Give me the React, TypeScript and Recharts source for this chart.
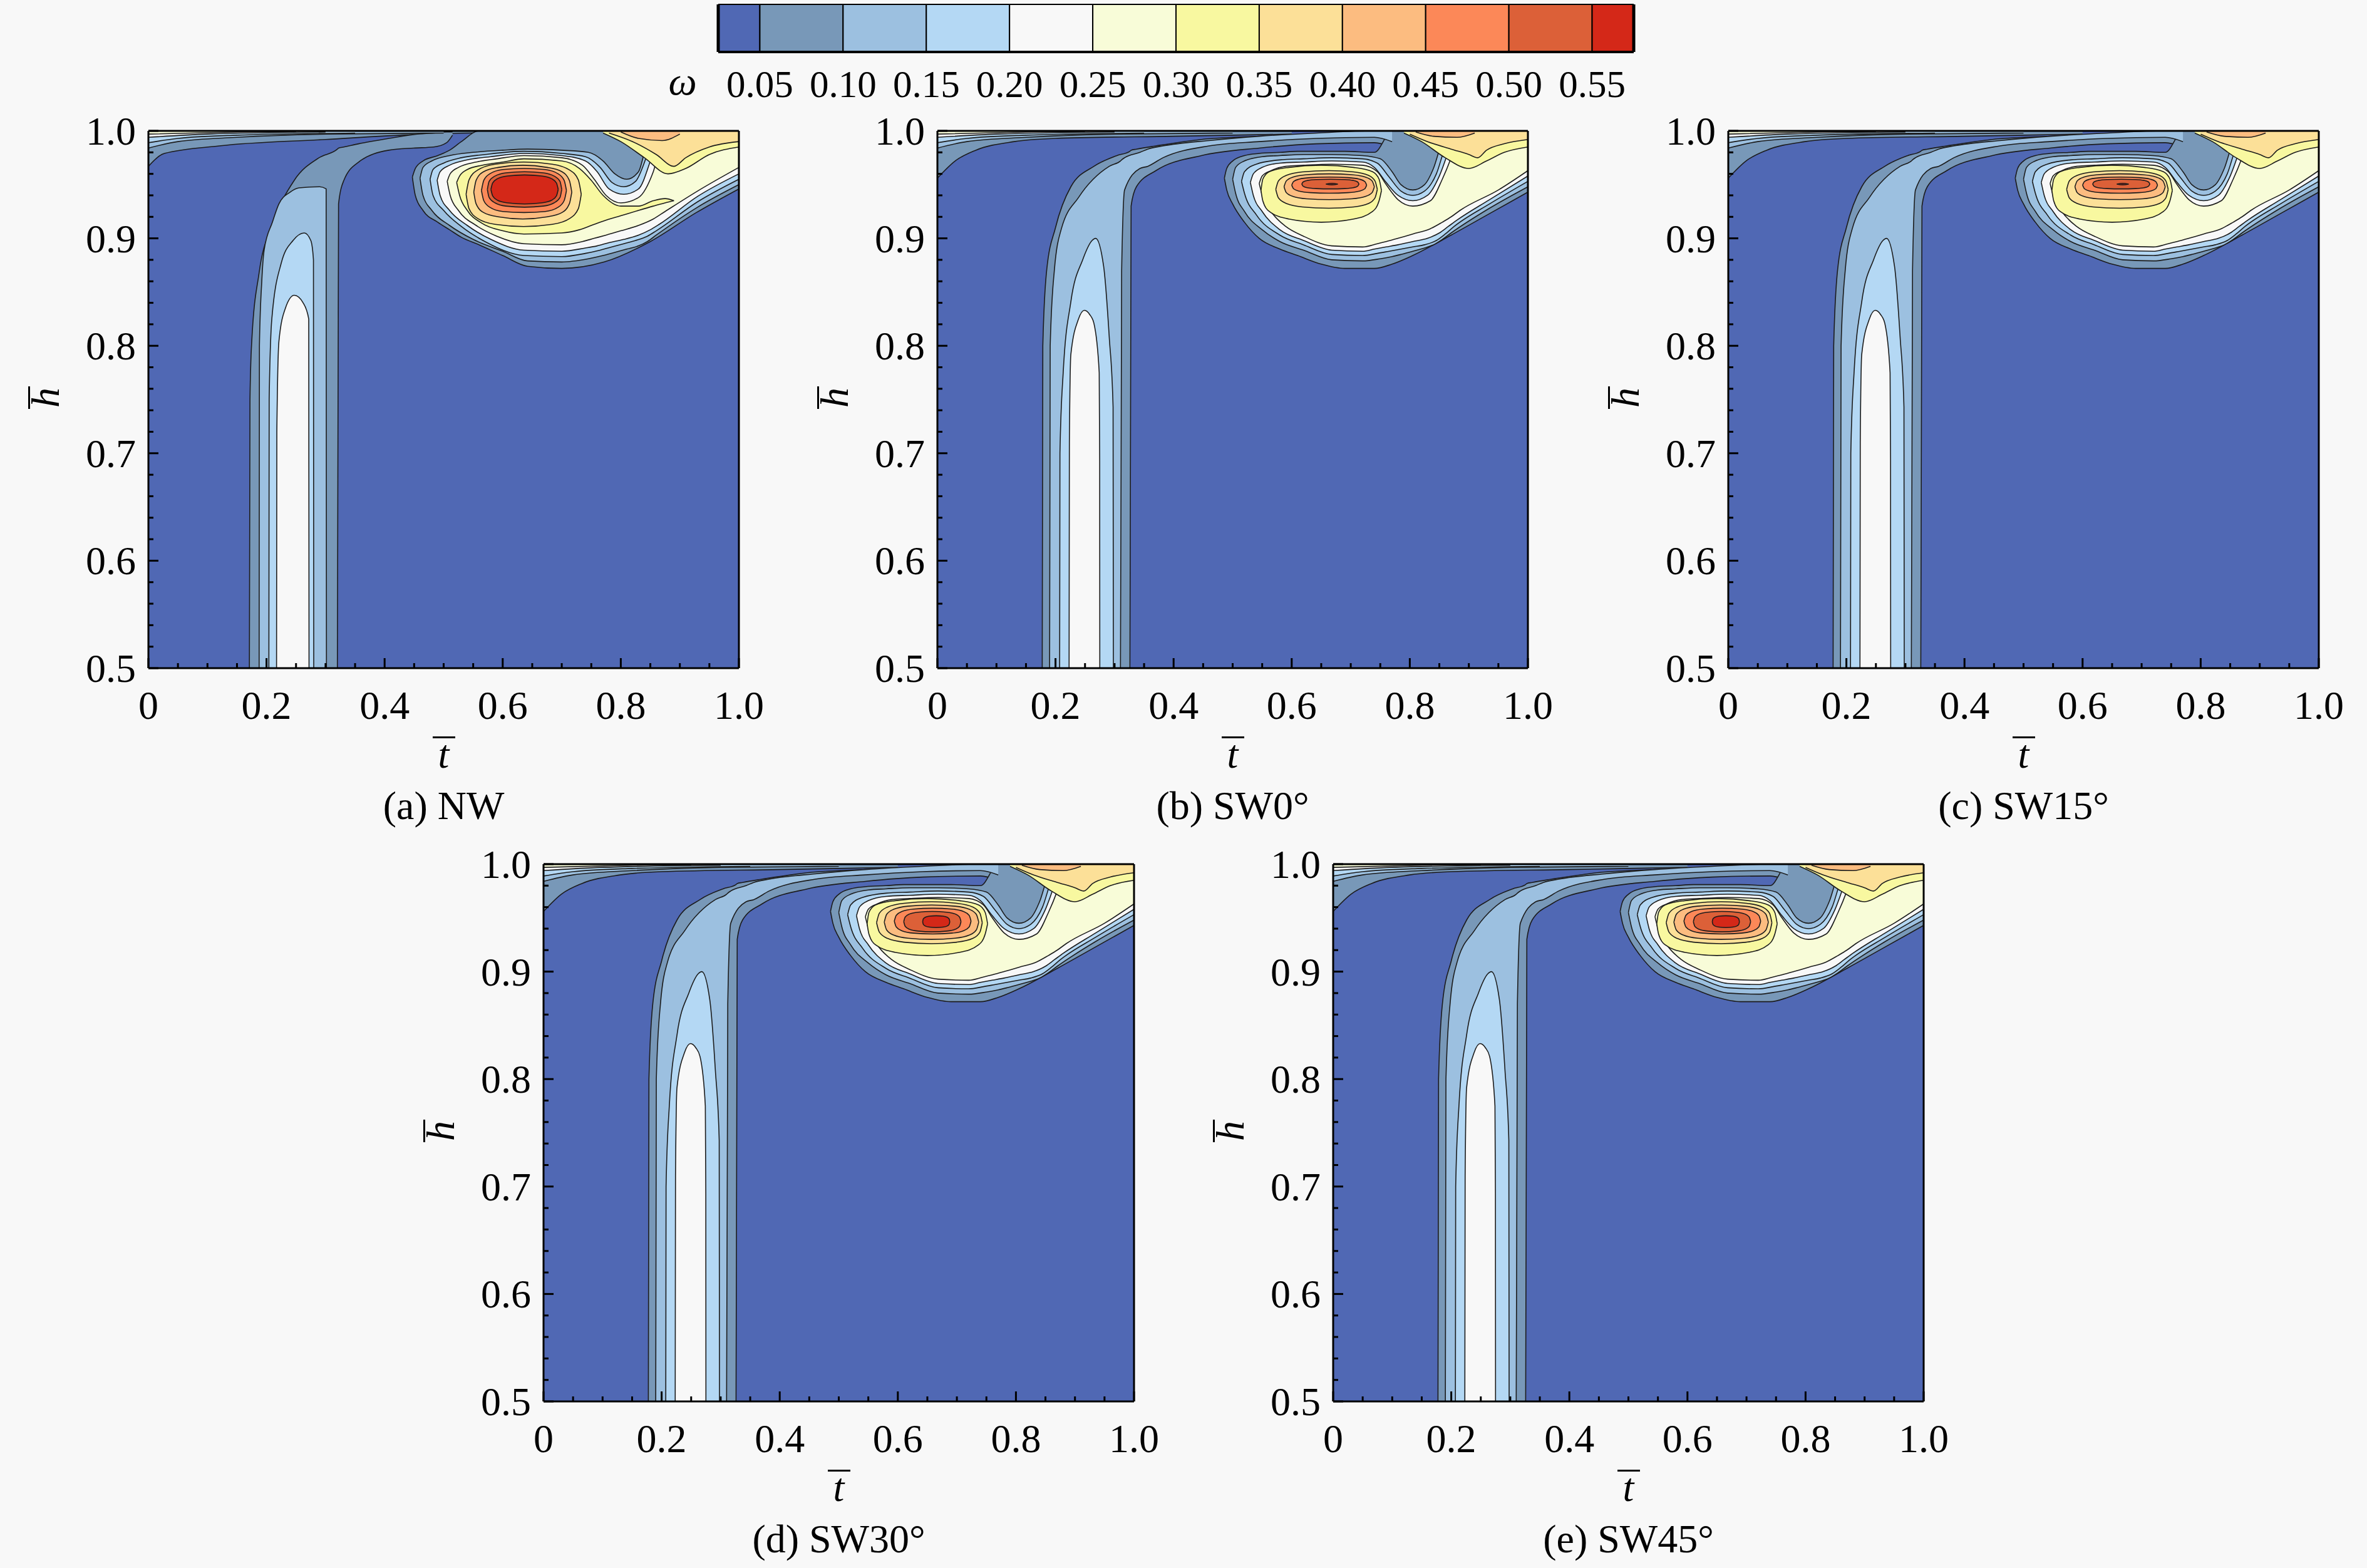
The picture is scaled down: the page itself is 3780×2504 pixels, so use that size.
import React from "react";
import { Area, Bar, BarChart, ComposedChart, ReferenceLine, XAxis, YAxis } from "recharts";

// one row of a contour band: [t, lower h, upper h]
type Row = [number, number, number];
type Layer = [number, Row[]];

// colour of each ω band, below 0.05 up to above 0.55
const LEVEL_COLORS = [
  "#5068b4", "#7898b8", "#9cc0e0", "#b4d8f4", "#f8f8f8", "#f8fcd8",
  "#f8f8a0", "#fce098", "#fcbc80", "#fc8858", "#dc6038", "#d42818",
];

const COLORBAR_CELLS = [0.05, 0.05, 0.05, 0.05, 0.05, 0.05, 0.05, 0.05, 0.05, 0.05, 0.05, 0.05];
const COLORBAR_TICKS = [0.05, 0.1, 0.15, 0.2, 0.25, 0.3, 0.35, 0.4, 0.45, 0.5, 0.55];
const COLORBAR_LABELS = ["0.05", "0.10", "0.15", "0.20", "0.25", "0.30", "0.35", "0.40", "0.45", "0.50", "0.55"];

const X_TICKS = [0, 0.05, 0.1, 0.15, 0.2, 0.25, 0.3, 0.35, 0.4, 0.45, 0.5, 0.55, 0.6, 0.65, 0.7, 0.75, 0.8, 0.85, 0.9, 0.95, 1];
const X_LABELS = ["0", "0.2", "0.4", "0.6", "0.8", "1.0"];
const Y_TICKS = [
  0.5, 0.52, 0.54, 0.56, 0.58, 0.6, 0.62, 0.64, 0.66, 0.68, 0.7, 0.72, 0.74,
  0.76, 0.78, 0.8, 0.82, 0.84, 0.86, 0.88, 0.9, 0.92, 0.94, 0.96, 0.98, 1,
];
const Y_LABELS = ["0.5", "0.6", "0.7", "0.8", "0.9", "1.0"];

const BACKGROUND: Row[] = [[0, 0.5, 1], [1, 0.5, 1]];

// boundary layer along the top wall
const TOP_NW_L1: Row[] = [[0, 0.967, 1], [0.027, 0.979, 1], [0.12, 0.986, 1], [0.3, 0.992, 1], [0.45, 0.9966, 1], [0.6, 0.9985, 1]];
const TOP_SW_L1: Row[] = [[0, 0.956, 1], [0.03, 0.972, 1], [0.065, 0.982, 1], [0.13, 0.99, 1], [0.2, 0.993, 1], [0.4, 0.995, 1], [0.6, 0.997, 1]];
const TOP_L2: Row[] = [[0, 0.984, 1], [0.05, 0.99, 1], [0.15, 0.994, 1], [0.3, 0.997, 1], [0.5, 0.998, 1]];
const TOP_L3: Row[] = [[0, 0.989, 1], [0.05, 0.993, 1], [0.15, 0.996, 1], [0.35, 0.998, 1]];
const TOP_L4: Row[] = [[0, 0.994, 1], [0.1, 0.997, 1], [0.3, 0.999, 1]];
const TOP_L5: Row[] = [[0, 0.997, 1], [0.15, 0.999, 1], [0.25, 0.9995, 1]];

// NW: vertical stripe and arc
const NW_STRIPE_L1: Row[] = [
  [0.171, 0.5, 0.5], [0.172, 0.5, 0.75], [0.175, 0.5, 0.804], [0.1875, 0.5, 0.868], [0.209, 0.5, 0.911],
  [0.247, 0.5, 0.954], [0.289, 0.5, 0.975], [0.32, 0.5, 0.983], [0.322, 0.932, 0.984], [0.331, 0.954, 0.985],
  [0.356, 0.971, 0.988], [0.407, 0.982, 0.993], [0.449, 0.984, 0.9966], [0.483, 0.985, 0.998],
  [0.505, 0.989, 0.999], [0.515, 0.996, 0.999],
];
const NW_STRIPE_L2: Row[] = [
  [0.1875, 0.5, 0.5], [0.188, 0.5, 0.8], [0.192, 0.5, 0.86], [0.196, 0.5, 0.889], [0.21, 0.5, 0.915],
  [0.221, 0.5, 0.932], [0.24, 0.5, 0.943], [0.255, 0.5, 0.947], [0.29, 0.5, 0.948], [0.301, 0.5, 0.946],
  [0.3015, 0.5, 0.5],
];
const NW_STRIPE_L3: Row[] = [
  [0.204, 0.5, 0.5], [0.2045, 0.5, 0.75], [0.209, 0.5, 0.825], [0.225, 0.5, 0.877], [0.245, 0.5, 0.898],
  [0.264, 0.5, 0.905], [0.275, 0.5, 0.898], [0.2795, 0.5, 0.88], [0.28, 0.5, 0.5],
];
const NW_STRIPE_L4: Row[] = [
  [0.217, 0.5, 0.5], [0.2175, 0.5, 0.72], [0.221, 0.5, 0.804], [0.232, 0.5, 0.835], [0.247, 0.5, 0.847],
  [0.262, 0.5, 0.84], [0.2715, 0.5, 0.825], [0.272, 0.5, 0.5],
];

// NW: vortex
const NW_BLOB_L1: Row[] = [
  [0.447, 0.957, 0.957], [0.452, 0.94, 0.965], [0.465, 0.926, 0.972], [0.49, 0.915, 0.977], [0.51, 0.908, 0.982],
  [0.53, 0.901, 0.99], [0.56, 0.894, 1], [0.6, 0.884, 1], [0.642, 0.874, 1], [0.7, 0.872, 1],
  [0.772, 0.878, 1], [0.85, 0.897, 1], [0.928, 0.924, 1], [1, 0.946, 1],
];
const NW_BLOB_L2: Row[] = [
  [0.46, 0.956, 0.956], [0.465, 0.94, 0.966], [0.48, 0.926, 0.972], [0.51, 0.912, 0.977], [0.55, 0.899, 0.98],
  [0.6, 0.888, 0.982], [0.642, 0.879, 0.983], [0.7, 0.878, 0.982], [0.745, 0.881, 0.98], [0.77, 0.884, 0.972],
  [0.79, 0.887, 0.96], [0.81, 0.89, 0.955], [0.83, 0.893, 0.962], [0.845, 0.897, 0.99], [0.86, 0.903, 1],
  [0.93, 0.929, 1], [1, 0.95, 1],
];
const NW_BLOB_L3: Row[] = [
  [0.477, 0.955, 0.955], [0.482, 0.94, 0.964], [0.5, 0.926, 0.97], [0.53, 0.911, 0.975], [0.57, 0.897, 0.978],
  [0.636, 0.884, 0.981], [0.7, 0.883, 0.979], [0.74, 0.886, 0.976], [0.765, 0.889, 0.966], [0.785, 0.892, 0.952],
  [0.805, 0.895, 0.948], [0.825, 0.898, 0.953], [0.845, 0.902, 0.978], [0.86, 0.907, 1], [0.93, 0.934, 1],
  [1, 0.955, 1],
];
const NW_BLOB_L4: Row[] = [
  [0.489, 0.954, 0.954], [0.494, 0.94, 0.962], [0.51, 0.926, 0.968], [0.54, 0.912, 0.973], [0.58, 0.899, 0.976],
  [0.636, 0.889, 0.979], [0.7, 0.888, 0.977], [0.74, 0.891, 0.972], [0.76, 0.893, 0.962], [0.78, 0.896, 0.946],
  [0.805, 0.899, 0.941], [0.83, 0.903, 0.946], [0.85, 0.908, 0.972], [0.865, 0.913, 1], [0.93, 0.939, 1],
  [1, 0.96, 1],
];
const NW_BLOB_L5: Row[] = [
  [0.506, 0.953, 0.953], [0.511, 0.94, 0.96], [0.525, 0.926, 0.966], [0.555, 0.912, 0.971], [0.59, 0.902, 0.974],
  [0.636, 0.895, 0.977], [0.7, 0.894, 0.975], [0.735, 0.897, 0.968], [0.755, 0.9, 0.955], [0.775, 0.903, 0.94],
  [0.8, 0.907, 0.933], [0.83, 0.912, 0.938], [0.855, 0.918, 0.962], [0.875, 0.925, 1], [0.93, 0.944, 1],
  [1, 0.966, 1],
];
const NW_BLOB_L6: Row[] = [
  [0.522, 0.952, 0.952], [0.527, 0.94, 0.958], [0.54, 0.926, 0.964], [0.565, 0.914, 0.968], [0.6, 0.907, 0.971],
  [0.636, 0.904, 0.974], [0.7, 0.905, 0.972], [0.73, 0.908, 0.965], [0.75, 0.912, 0.954], [0.77, 0.916, 0.94],
  [0.8, 0.921, 0.93], [0.83, 0.926, 0.93], [0.855, 0.93, 0.935], [0.875, 0.933, 0.937], [0.89, 0.935, 0.935],
];
const NW_TOP_L6: Row[] = [[0.77, 0.998, 1], [0.8, 0.99, 1], [0.84, 0.975, 1], [0.88, 0.96, 1], [0.91, 0.965, 1], [0.95, 0.978, 1], [1, 0.985, 1]];
const NW_TOP_L7: Row[] = [[0.78, 0.998, 1], [0.82, 0.99, 1], [0.86, 0.978, 1], [0.89, 0.967, 1], [0.91, 0.975, 1], [0.95, 0.985, 1], [1, 0.99, 1]];
const NW_TOP_L8: Row[] = [[0.8, 0.999, 1], [0.83, 0.993, 1], [0.87, 0.991, 1], [0.9, 0.997, 1]];
const NW_CORE_L7: Row[] = [
  [0.538, 0.941, 0.941], [0.543, 0.9275, 0.9545], [0.5575, 0.9185, 0.9635], [0.587, 0.913, 0.969], [0.6355, 0.911, 0.971],
  [0.684, 0.913, 0.969], [0.7135, 0.9185, 0.9635], [0.728, 0.9275, 0.9545], [0.733, 0.941, 0.941],
];
const NW_CORE_L8: Row[] = [
  [0.551, 0.943, 0.943], [0.555, 0.932, 0.954], [0.5676, 0.924, 0.962], [0.5925, 0.92, 0.966], [0.634, 0.918, 0.968],
  [0.6755, 0.92, 0.966], [0.7004, 0.924, 0.962], [0.7128, 0.932, 0.954], [0.717, 0.943, 0.943],
];
const NW_CORE_L9: Row[] = [
  [0.564, 0.9445, 0.9445], [0.568, 0.935, 0.954], [0.578, 0.929, 0.96], [0.6, 0.925, 0.964], [0.636, 0.924, 0.965],
  [0.672, 0.925, 0.964], [0.694, 0.929, 0.96], [0.704, 0.935, 0.954], [0.708, 0.9445, 0.9445],
];
const NW_CORE_L10: Row[] = [
  [0.574, 0.9455, 0.9455], [0.577, 0.938, 0.953], [0.587, 0.933, 0.958], [0.6055, 0.93, 0.961], [0.637, 0.929, 0.962],
  [0.6685, 0.93, 0.961], [0.687, 0.933, 0.958], [0.697, 0.938, 0.953], [0.7, 0.9455, 0.9455],
];
const NW_CORE_L11: Row[] = [
  [0.58, 0.9455, 0.9455], [0.583, 0.9395, 0.9515], [0.591, 0.9355, 0.9555], [0.6085, 0.933, 0.958], [0.637, 0.932, 0.959],
  [0.6655, 0.933, 0.958], [0.683, 0.9355, 0.9555], [0.691, 0.9395, 0.9515], [0.694, 0.9455, 0.9455],
];

// SW: stripe and arc (shared by the four slip-wall cases)
const SW_STRIPE_L1: Row[] = [
  [0.1775, 0.5, 0.5], [0.1785, 0.5, 0.8], [0.185, 0.5, 0.87], [0.2, 0.5, 0.91], [0.226, 0.5, 0.948],
  [0.265, 0.5, 0.967], [0.304, 0.5, 0.977], [0.326, 0.5, 0.981], [0.328, 0.93, 0.982], [0.337, 0.948, 0.983],
  [0.37, 0.963, 0.986], [0.447, 0.977, 0.992], [0.545, 0.984, 0.995], [0.642, 0.988, 0.997], [0.74, 0.989, 1],
  [0.77, 0.985, 1],
];
const SW_STRIPE_L2: Row[] = [
  [0.19, 0.5, 0.5], [0.191, 0.5, 0.8], [0.198, 0.5, 0.87], [0.21, 0.5, 0.909], [0.239, 0.5, 0.938],
  [0.291, 0.5, 0.967], [0.31, 0.5, 0.972], [0.312, 0.87, 0.973], [0.317, 0.945, 0.975], [0.343, 0.965, 0.98],
  [0.356, 0.967, 0.983], [0.382, 0.975, 0.986], [0.46, 0.986, 0.991], [0.545, 0.99, 0.995], [0.642, 0.993, 0.998],
  [0.74, 0.994, 1], [0.77, 0.99, 1],
];
const SW_STRIPE_L3: Row[] = [
  [0.207, 0.5, 0.5], [0.2075, 0.5, 0.7], [0.213, 0.5, 0.775], [0.226, 0.5, 0.841], [0.246, 0.5, 0.88],
  [0.262, 0.5, 0.898], [0.268, 0.5, 0.9], [0.2815, 0.5, 0.874], [0.291, 0.5, 0.808], [0.2975, 0.5, 0.743],
  [0.298, 0.5, 0.5],
];
const SW_STRIPE_L4: Row[] = [
  [0.223, 0.5, 0.5], [0.2235, 0.5, 0.71], [0.226, 0.5, 0.792], [0.239, 0.5, 0.825], [0.249, 0.5, 0.833],
  [0.258, 0.5, 0.829], [0.265, 0.5, 0.821], [0.274, 0.5, 0.775], [0.2748, 0.5, 0.693], [0.275, 0.5, 0.5],
];

// SW: vortex, outer bands
const SW_BLOB_L1: Row[] = [
  [0.486, 0.956, 0.956], [0.49, 0.945, 0.965], [0.5, 0.932, 0.972], [0.52, 0.915, 0.977], [0.545, 0.9, 0.979],
  [0.58, 0.89, 0.98], [0.61, 0.884, 0.981], [0.65, 0.876, 0.981], [0.69, 0.872, 0.981], [0.74, 0.872, 0.98],
  [0.77, 0.876, 1], [0.805, 0.884, 1], [0.87, 0.903, 1], [0.935, 0.923, 1], [1, 0.943, 1],
];
const SW_BLOB_L2: Row[] = [
  [0.5, 0.955, 0.955], [0.505, 0.942, 0.966], [0.52, 0.925, 0.972], [0.55, 0.908, 0.976], [0.58, 0.897, 0.977],
  [0.62, 0.889, 0.978], [0.668, 0.88, 0.978], [0.72, 0.879, 0.977], [0.75, 0.881, 0.974], [0.77, 0.883, 0.962],
  [0.785, 0.885, 0.95], [0.805, 0.888, 0.945], [0.825, 0.891, 0.95], [0.84, 0.894, 0.965], [0.855, 0.899, 0.99],
  [0.87, 0.905, 1], [0.935, 0.928, 1], [1, 0.948, 1],
];
const SW_BLOB_L3: Row[] = [
  [0.515, 0.953, 0.953], [0.52, 0.942, 0.962], [0.54, 0.922, 0.969], [0.58, 0.903, 0.973], [0.62, 0.894, 0.974],
  [0.668, 0.885, 0.975], [0.72, 0.884, 0.974], [0.745, 0.886, 0.97], [0.765, 0.888, 0.957], [0.785, 0.89, 0.944],
  [0.805, 0.892, 0.94], [0.825, 0.894, 0.944], [0.845, 0.898, 0.96], [0.86, 0.904, 0.985], [0.875, 0.911, 1],
  [0.935, 0.932, 1], [1, 0.953, 1],
];
const SW_BLOB_L4: Row[] = [
  [0.53, 0.952, 0.952], [0.535, 0.94, 0.96], [0.55, 0.925, 0.966], [0.58, 0.908, 0.97], [0.62, 0.898, 0.971],
  [0.668, 0.889, 0.972], [0.72, 0.888, 0.971], [0.74, 0.89, 0.966], [0.76, 0.892, 0.952], [0.78, 0.894, 0.94],
  [0.805, 0.897, 0.935], [0.83, 0.9, 0.94], [0.85, 0.905, 0.958], [0.865, 0.911, 0.98], [0.88, 0.917, 1],
  [0.935, 0.936, 1], [1, 0.958, 1],
];
const SW_BLOB_L5: Row[] = [
  [0.545, 0.951, 0.951], [0.55, 0.94, 0.958], [0.565, 0.925, 0.963], [0.59, 0.911, 0.967], [0.62, 0.902, 0.968],
  [0.668, 0.893, 0.969], [0.72, 0.892, 0.968], [0.745, 0.895, 0.962], [0.76, 0.897, 0.95], [0.78, 0.9, 0.936],
  [0.805, 0.904, 0.93], [0.835, 0.909, 0.935], [0.855, 0.915, 0.955], [0.87, 0.92, 0.975], [0.885, 0.926, 1],
  [0.95, 0.945, 1], [1, 0.963, 1],
];
const SW_RING_L6: Row[] = [
  [0.548, 0.9445, 0.9445], [0.551, 0.935, 0.955], [0.562, 0.925, 0.962], [0.595, 0.918, 0.966], [0.65, 0.915, 0.968],
  [0.705, 0.918, 0.966], [0.737, 0.925, 0.962], [0.748, 0.935, 0.955], [0.752, 0.9445, 0.9445],
];
const SW_TOP_L6: Row[] = [[0.79, 0.998, 1], [0.82, 0.99, 1], [0.86, 0.975, 1], [0.9, 0.965, 1], [0.93, 0.972, 1], [0.96, 0.98, 1], [1, 0.985, 1]];
const SW_TOP_L7: Row[] = [[0.8, 0.997, 1], [0.83, 0.99, 1], [0.87, 0.983, 1], [0.9, 0.978, 1], [0.915, 0.975, 1], [0.93, 0.982, 1], [0.96, 0.988, 1], [1, 0.992, 1]];
const SW_TOP_L8: Row[] = [[0.81, 0.999, 1], [0.84, 0.995, 1], [0.88, 0.994, 1], [0.91, 0.998, 1]];

// SW0° / SW15° core
const SW0_CORE_L7: Row[] = [
  [0.573, 0.9455, 0.9455], [0.5775, 0.9376, 0.9534], [0.591, 0.9324, 0.9586], [0.618, 0.9292, 0.9618], [0.663, 0.928, 0.963],
  [0.705, 0.9292, 0.9618], [0.73, 0.9324, 0.9586], [0.741, 0.9376, 0.9534], [0.745, 0.9455, 0.9455],
];
const SW0_CORE_L8: Row[] = [
  [0.587, 0.948, 0.948], [0.5908, 0.9426, 0.9534], [0.6023, 0.939, 0.957], [0.6253, 0.9368, 0.9592], [0.6635, 0.936, 0.96],
  [0.7018, 0.9368, 0.9592], [0.7247, 0.939, 0.957], [0.7362, 0.9426, 0.9534], [0.74, 0.948, 0.948],
];
const SW0_CORE_L9: Row[] = [
  [0.6, 0.9495, 0.9495], [0.6032, 0.9461, 0.9529], [0.6127, 0.9439, 0.9551], [0.6318, 0.9425, 0.9565], [0.6635, 0.942, 0.957],
  [0.6953, 0.9425, 0.9565], [0.7143, 0.9439, 0.9551], [0.7238, 0.9461, 0.9529], [0.727, 0.9495, 0.9495],
];
const SW0_CORE_L10: Row[] = [
  [0.617, 0.9505, 0.9505], [0.6194, 0.9485, 0.9525], [0.6267, 0.9471, 0.9539], [0.6413, 0.9463, 0.9547], [0.6655, 0.946, 0.955],
  [0.6898, 0.9463, 0.9547], [0.7043, 0.9471, 0.9539], [0.7116, 0.9485, 0.9525], [0.714, 0.9505, 0.9505],
];
const SW0_CORE_L11: Row[] = [[0.658, 0.9505, 0.9505], [0.668, 0.9498, 0.9512], [0.678, 0.9505, 0.9505]];

// SW30° / SW45° core
const SW30_CORE_L7: Row[] = [
  [0.564, 0.9455, 0.9455], [0.5687, 0.9367, 0.9543], [0.5826, 0.9309, 0.9601], [0.6105, 0.9274, 0.9636], [0.657, 0.926, 0.965],
  [0.7, 0.9274, 0.9636], [0.727, 0.9309, 0.9601], [0.739, 0.9367, 0.9543], [0.743, 0.9455, 0.9455],
];
const SW30_CORE_L8: Row[] = [
  [0.577, 0.946, 0.946], [0.581, 0.9388, 0.9532], [0.593, 0.934, 0.958], [0.617, 0.9311, 0.9609], [0.657, 0.93, 0.962],
  [0.697, 0.9311, 0.9609], [0.721, 0.934, 0.958], [0.733, 0.9388, 0.9532], [0.737, 0.946, 0.946],
];
const SW30_CORE_L9: Row[] = [
  [0.594, 0.947, 0.947], [0.5973, 0.9416, 0.9524], [0.607, 0.938, 0.956], [0.6265, 0.9358, 0.9582], [0.659, 0.935, 0.959],
  [0.6915, 0.9358, 0.9582], [0.711, 0.938, 0.956], [0.7208, 0.9416, 0.9524], [0.724, 0.947, 0.947],
];
const SW30_CORE_L10: Row[] = [
  [0.61, 0.9465, 0.9465], [0.6124, 0.9422, 0.9508], [0.6197, 0.9394, 0.9536], [0.6343, 0.9377, 0.9553], [0.6585, 0.937, 0.956],
  [0.6828, 0.9377, 0.9553], [0.6973, 0.9394, 0.9536], [0.7046, 0.9422, 0.9508], [0.707, 0.9465, 0.9465],
];
const SW30_CORE_L11: Row[] = [
  [0.642, 0.9465, 0.9465], [0.6431, 0.944, 0.949], [0.6466, 0.9424, 0.9506], [0.6535, 0.9414, 0.9516], [0.665, 0.941, 0.952],
  [0.6765, 0.9414, 0.9516], [0.6835, 0.9424, 0.9506], [0.6869, 0.944, 0.949], [0.688, 0.9465, 0.9465],
];

const NW_LAYERS: Layer[] = [
  [1, TOP_NW_L1], [1, NW_STRIPE_L1], [1, NW_BLOB_L1],
  [2, TOP_L2], [2, NW_STRIPE_L2], [2, NW_BLOB_L2],
  [3, TOP_L3], [3, NW_STRIPE_L3], [3, NW_BLOB_L3],
  [4, TOP_L4], [4, NW_STRIPE_L4], [4, NW_BLOB_L4],
  [5, TOP_L5], [5, NW_BLOB_L5], [6, NW_BLOB_L6], [6, NW_TOP_L6],
  [7, NW_TOP_L7], [7, NW_CORE_L7], [8, NW_TOP_L8], [8, NW_CORE_L8],
  [9, NW_CORE_L9], [10, NW_CORE_L10], [11, NW_CORE_L11],
];

const SW_OUTER: Layer[] = [
  [1, TOP_SW_L1], [1, SW_STRIPE_L1], [1, SW_BLOB_L1],
  [2, TOP_L2], [2, SW_STRIPE_L2], [2, SW_BLOB_L2],
  [3, TOP_L3], [3, SW_STRIPE_L3], [3, SW_BLOB_L3],
  [4, TOP_L4], [4, SW_STRIPE_L4], [4, SW_BLOB_L4],
  [5, TOP_L5], [5, SW_BLOB_L5], [6, SW_RING_L6], [6, SW_TOP_L6],
  [7, SW_TOP_L7], [8, SW_TOP_L8],
];
const SW0_LAYERS: Layer[] = [
  ...SW_OUTER,
  [7, SW0_CORE_L7], [8, SW0_CORE_L8], [9, SW0_CORE_L9], [10, SW0_CORE_L10], [11, SW0_CORE_L11],
];
const SW30_LAYERS: Layer[] = [
  ...SW_OUTER,
  [7, SW30_CORE_L7], [8, SW30_CORE_L8], [9, SW30_CORE_L9], [10, SW30_CORE_L10], [11, SW30_CORE_L11],
];

const PANELS = [
  { caption: "(a) NW", left: 237, top: 209, layers: NW_LAYERS },
  { caption: "(b) SW0°", left: 1497, top: 209, layers: SW0_LAYERS },
  { caption: "(c) SW15°", left: 2760, top: 209, layers: SW0_LAYERS },
  { caption: "(d) SW30°", left: 868, top: 1380, layers: SW30_LAYERS },
  { caption: "(e) SW45°", left: 2129, top: 1380, layers: SW30_LAYERS },
];

const PW = 943;
const PH = 858;
const AXIS_W = 240;
const AXIS_H = 120;
const TOP_M = 40;
const RIGHT_M = 60;
const SERIF = '"Liberation Serif", "Times New Roman", serif';
const LINE = "#1c1c1c";

const toRows = (rows: Row[]) => rows.map(([t, lo, hi]) => ({ t, r: [lo, hi] }));

function XTick(props: any) {
  const { x, y, index } = props;
  const major = index % 4 === 0;
  return (
    <g>
      <line x1={x} x2={x} y1={y} y2={y - (major ? 16 : 8)} stroke="#000" strokeWidth={3} />
      {major && (
        <text x={x} y={y + 81} textAnchor="middle" fontFamily={SERIF} fontSize={64} fill="#000">
          {X_LABELS[index / 4]}
        </text>
      )}
    </g>
  );
}

function YTick(props: any) {
  const { x, y, index } = props;
  const major = index % 5 === 0;
  return (
    <g>
      <line x1={x} x2={x + (major ? 16 : 8)} y1={y} y2={y} stroke="#000" strokeWidth={3} />
      {major && (
        <text x={x - 20} y={y + 22} textAnchor="end" fontFamily={SERIF} fontSize={64} fill="#000">
          {Y_LABELS[index / 5]}
        </text>
      )}
    </g>
  );
}

function BarLetter({ ch, x, y, rotate, gap }: { ch: string; x: number; y: number; rotate: boolean; gap: number }) {
  return (
    <div
      style={{
        position: "absolute",
        left: x,
        top: y,
        transform: rotate ? "translate(-50%, -50%) rotate(-90deg)" : "translate(-50%, 0)",
        display: "flex",
        flexDirection: "column",
        alignItems: "center",
      }}
    >
      <div style={{ width: 36, height: 3, background: "#000" }} />
      <div style={{ fontFamily: SERIF, fontStyle: "italic", fontSize: 64, lineHeight: 1, marginTop: gap }}>{ch}</div>
    </div>
  );
}

function ContourPanel({ caption, left, top, layers }: { caption: string; left: number; top: number; layers: Layer[] }) {
  return (
    <>
      <div style={{ position: "absolute", left: left - AXIS_W, top: top - TOP_M }}>
        <ComposedChart
          width={AXIS_W + PW + RIGHT_M}
          height={TOP_M + PH + AXIS_H}
          margin={{ top: TOP_M, right: RIGHT_M, bottom: 0, left: 0 }}
        >
          <Area
            data={toRows(BACKGROUND)}
            dataKey="r"
            type="linear"
            fill={LEVEL_COLORS[0]}
            fillOpacity={1}
            stroke="none"
            dot={false}
            activeDot={false}
            isAnimationActive={false}
          />
          {layers.map(([level, rows], i) => (
            <Area
              key={i}
              data={toRows(rows)}
              dataKey="r"
              type="monotone"
              fill={LEVEL_COLORS[level]}
              fillOpacity={1}
              stroke={LINE}
              strokeWidth={1.6}
              dot={false}
              activeDot={false}
              isAnimationActive={false}
            />
          ))}
          <XAxis
            dataKey="t"
            type="number"
            domain={[0, 1]}
            ticks={X_TICKS}
            interval={0}
            tick={(p: any) => <XTick {...p} />}
            tickLine={false}
            tickSize={0}
            tickMargin={0}
            axisLine={{ stroke: "#000", strokeWidth: 3 }}
            height={AXIS_H}
          />
          <YAxis
            type="number"
            domain={[0.5, 1]}
            ticks={Y_TICKS}
            interval={0}
            tick={(p: any) => <YTick {...p} />}
            tickLine={false}
            tickSize={0}
            tickMargin={0}
            axisLine={{ stroke: "#000", strokeWidth: 3 }}
            width={AXIS_W}
          />
          <ReferenceLine x={1} stroke="#000" strokeWidth={3} />
          <ReferenceLine y={1} stroke="#000" strokeWidth={3} />
        </ComposedChart>
      </div>
      <BarLetter ch="t" x={left + PW / 2} y={top + PH + 109} rotate={false} gap={-6} />
      <BarLetter ch="h" x={left - 162} y={top + 426} rotate={true} gap={-7} />
      <div
        style={{
          position: "absolute",
          left: left + PW / 2,
          top: top + PH + 188,
          transform: "translate(-50%, 0)",
          fontFamily: SERIF,
          fontSize: 64,
          lineHeight: 1,
          whiteSpace: "nowrap",
        }}
      >
        {caption}
      </div>
    </>
  );
}

const CB_LEFT = 1147;
const CB_TOP = 7;
const CB_W = 1462;
const CB_H = 76;
const CB_PAD = 4;

function ColorBarTick(props: any) {
  const { x, y, index } = props;
  return (
    <text x={x} y={y + 72} textAnchor="middle" fontFamily={SERIF} fontSize={61} fill="#000">
      {COLORBAR_LABELS[index]}
    </text>
  );
}

function ColorBar() {
  const row: Record<string, number | string> = { name: "omega" };
  COLORBAR_CELLS.forEach((w, i) => {
    row["c" + i] = w;
  });
  return (
    <>
      <div style={{ position: "absolute", left: CB_LEFT - CB_PAD, top: CB_TOP - CB_PAD }}>
        <BarChart
          layout="vertical"
          width={CB_W + 2 * CB_PAD}
          height={CB_PAD + CB_H + 100}
          data={[row]}
          margin={{ top: CB_PAD, right: CB_PAD, bottom: 0, left: CB_PAD }}
          barCategoryGap={0}
          barGap={0}
        >
          <XAxis
            type="number"
            domain={[0.025, 0.575]}
            allowDataOverflow
            ticks={COLORBAR_TICKS}
            interval={0}
            tick={(p: any) => <ColorBarTick {...p} />}
            tickLine={false}
            tickSize={0}
            tickMargin={0}
            axisLine={{ stroke: "#000", strokeWidth: 4 }}
            height={100}
          />
          <YAxis type="category" dataKey="name" hide />
          {COLORBAR_CELLS.map((_, i) => (
            <Bar
              key={i}
              dataKey={"c" + i}
              stackId="cb"
              fill={LEVEL_COLORS[i]}
              stroke="#000"
              strokeWidth={2}
              isAnimationActive={false}
            />
          ))}
          <ReferenceLine x={0.025} stroke="#000" strokeWidth={5} />
          <ReferenceLine x={0.575} stroke="#000" strokeWidth={5} />
        </BarChart>
      </div>
      <div
        style={{
          position: "absolute",
          left: 1090,
          top: 98,
          transform: "translate(-50%, 0)",
          fontFamily: SERIF,
          fontStyle: "italic",
          fontSize: 64,
          lineHeight: 1,
        }}
      >
        ω
      </div>
    </>
  );
}

export default function App() {
  return (
    <div
      style={{
        position: "fixed",
        left: 0,
        top: 0,
        width: 3780,
        height: 2504,
        background: "#f8f8f8",
        overflow: "hidden",
      }}
    >
      <ColorBar />
      {PANELS.map((p) => (
        <ContourPanel key={p.caption} caption={p.caption} left={p.left} top={p.top} layers={p.layers} />
      ))}
    </div>
  );
}
